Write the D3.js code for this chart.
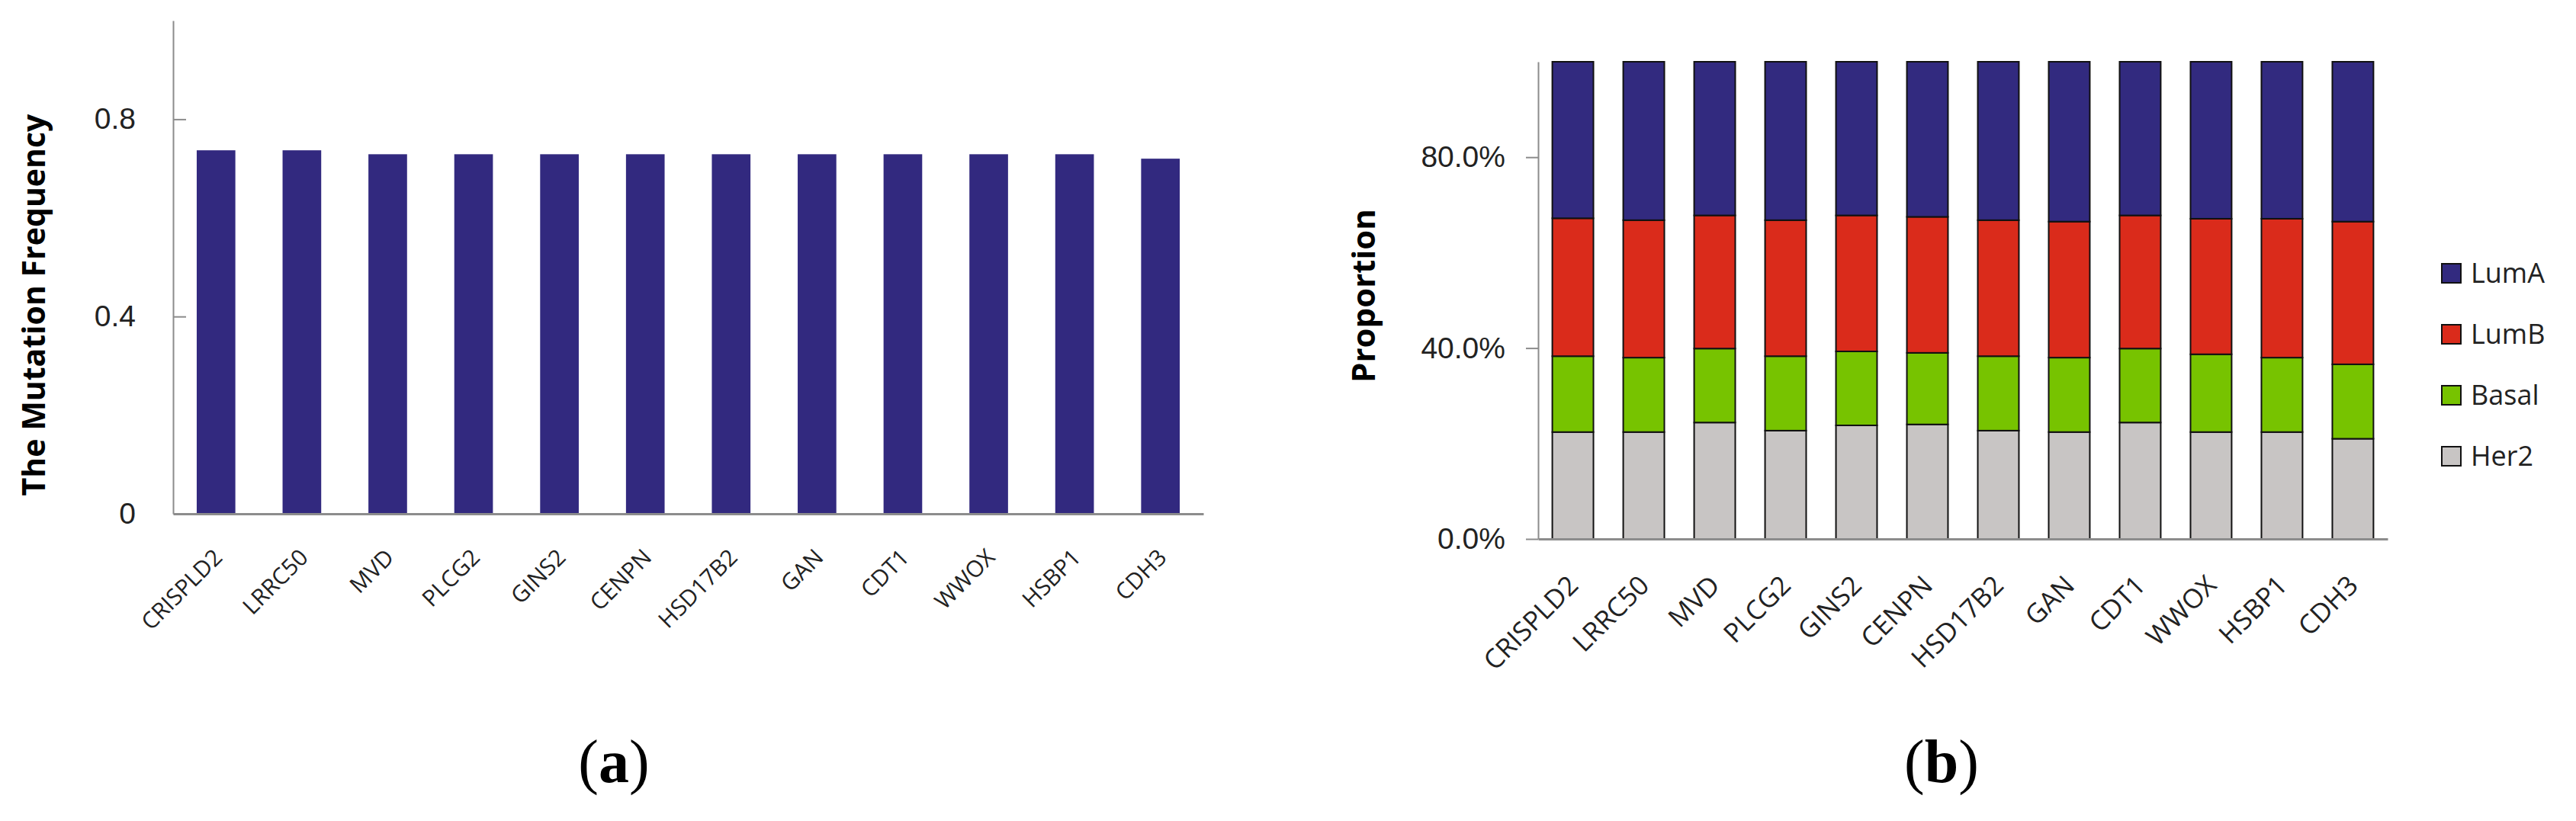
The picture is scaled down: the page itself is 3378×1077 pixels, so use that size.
<!DOCTYPE html>
<meta charset="utf-8">
<script src="https://d3js.org/d3.v7.min.js"></script>
<style>
  body { margin: 0; background: #fff; }
</style>
<svg id="fig" width="3378" height="1077"></svg>
<script>

  // genes shown in both panels
  var genes = ["CRISPLD2", "LRRC50", "MVD", "PLCG2", "GINS2", "CENPN",
               "HSD17B2", "GAN", "CDT1", "WWOX", "HSBP1", "CDH3"];

  // panel (a): mutation frequency per gene
  var mutFreq = [0.737, 0.737, 0.729, 0.729, 0.729, 0.729,
                 0.729, 0.729, 0.729, 0.729, 0.729, 0.720];
  var freqTicks = [0, 0.4, 0.8];

  // panel (b): subtype proportions per gene
  var subtypes = ["Her2", "Basal", "LumB", "LumA"];
  var her2  = [0.224, 0.224, 0.244, 0.227, 0.238, 0.240, 0.227, 0.224, 0.244, 0.224, 0.224, 0.210];
  var basal = [0.159, 0.156, 0.155, 0.156, 0.155, 0.150, 0.156, 0.156, 0.155, 0.163, 0.156, 0.156];
  var lumB  = [0.289, 0.288, 0.279, 0.285, 0.285, 0.285, 0.285, 0.285, 0.279, 0.284, 0.291, 0.299];
  var lumA  = [0.328, 0.332, 0.322, 0.332, 0.322, 0.325, 0.332, 0.335, 0.322, 0.329, 0.329, 0.335];
  var propTicks = [0, 0.4, 0.8];
  var legendOrder = ["LumA", "LumB", "Basal", "Her2"];

  var colors = {LumA: "#322a7f", LumB: "#da2b1b", Basal: "#77c300", Her2: "#c8c5c4"};

  var svg = d3.select("#fig");
  var tickFont = "'Liberation Sans', Arial, sans-serif";
  var labelFont = "'Open Sans', 'Noto Sans', sans-serif";
  var serif = "'Liberation Serif', 'DejaVu Serif', serif";

  // ---------------- panel (a) ----------------
  var xa = d3.scaleBand().domain(genes).range([227, 1578]).paddingInner(0.55).paddingOuter(0.275);
  var ya = d3.scaleLinear().domain([0, 1]).range([674, 27]);

  var ga = svg.append("g");

  ga.append("g")
      .selectAll("rect")
      .data(genes)
      .enter().append("rect")
        .attr("x", function(d) { return xa(d); })
        .attr("width", xa.bandwidth())
        .attr("y", function(d, i) { return ya(mutFreq[i]); })
        .attr("height", function(d, i) { return ya(0) - ya(mutFreq[i]); })
        .attr("fill", "#32297f");

  var yAxisA = ga.append("g")
      .attr("transform", "translate(227,0)")
      .call(d3.axisLeft(ya).tickValues(freqTicks).tickFormat(d3.format("")).tickSizeInner(-17).tickSizeOuter(0).tickPadding(49));
  yAxisA.select(".domain").attr("stroke", "#8c8c8c").attr("stroke-width", 2);
  yAxisA.selectAll(".tick line").attr("stroke", "#8c8c8c").attr("stroke-width", 2)
      .attr("display", function(d) { return d === 0 ? "none" : null; });
  yAxisA.selectAll(".tick text").style("font-family", tickFont).style("font-size", "39px").attr("fill", "#222");

  var xAxisA = ga.append("g")
      .attr("transform", "translate(0,674)")
      .call(d3.axisBottom(xa).tickSize(0).tickSizeOuter(0));
  xAxisA.select(".domain").attr("stroke", "#8c8c8c").attr("stroke-width", 3);
  xAxisA.selectAll(".tick text")
      .attr("x", 0).attr("y", 0).attr("dy", 0)
      .attr("transform", "translate(10,59) rotate(-45)")
      .style("text-anchor", "end")
      .style("font-family", labelFont).style("font-size", "30px").attr("fill", "#222");

  ga.append("text")
      .attr("transform", "translate(59,400) rotate(-90)")
      .attr("text-anchor", "middle")
      .style("font-family", labelFont).style("font-weight", 700).style("font-size", "41px")
      .text("The Mutation Frequency");

  var capA = ga.append("text")
      .attr("x", 805).attr("y", 1026)
      .attr("text-anchor", "middle")
      .style("font-family", serif).style("font-size", "80px");
  capA.append("tspan").text("(");
  capA.append("tspan").style("font-weight", 700).text("a");
  capA.append("tspan").text(")");

  // ---------------- panel (b) ----------------
  var xb = d3.scaleBand().domain(genes).range([2017, 3131]).paddingInner(0.42).paddingOuter(0.2);
  var yb = d3.scaleLinear().domain([0, 1]).range([707, 81]);

  var table = genes.map(function(g, i) {
    return {gene: g, Her2: her2[i], Basal: basal[i], LumB: lumB[i], LumA: lumA[i]};
  });
  var stacked = d3.stack().keys(subtypes)(table);

  var gb = svg.append("g");

  gb.append("g")
      .selectAll("g")
      .data(stacked)
      .enter().append("g")
        .attr("fill", function(d) { return colors[d.key]; })
      .selectAll("rect")
      .data(function(d) { return d; })
      .enter().append("rect")
        .attr("x", function(d) { return xb(d.data.gene); })
        .attr("width", xb.bandwidth())
        .attr("y", function(d) { return yb(d[1]); })
        .attr("height", function(d) { return yb(d[0]) - yb(d[1]); })
        .attr("stroke", "#111")
        .attr("stroke-width", 2);

  var yAxisB = gb.append("g")
      .attr("transform", "translate(2017,0)")
      .call(d3.axisLeft(yb).tickValues(propTicks).tickFormat(d3.format(".1%")).tickSizeInner(16).tickSizeOuter(0).tickPadding(27));
  yAxisB.select(".domain").attr("stroke", "#8c8c8c").attr("stroke-width", 2);
  yAxisB.selectAll(".tick line").attr("stroke", "#8c8c8c").attr("stroke-width", 2);
  yAxisB.selectAll(".tick text").style("font-family", tickFont).style("font-size", "39px").attr("fill", "#222");

  var xAxisB = gb.append("g")
      .attr("transform", "translate(0,707)")
      .call(d3.axisBottom(xb).tickSize(0).tickSizeOuter(0));
  xAxisB.select(".domain").attr("stroke", "#8c8c8c").attr("stroke-width", 3);
  xAxisB.selectAll(".tick text")
      .attr("x", 0).attr("y", 0).attr("dy", 0)
      .attr("transform", "translate(9,63) rotate(-45)")
      .style("text-anchor", "end")
      .style("font-family", labelFont).style("font-size", "35px").attr("fill", "#222");

  gb.append("text")
      .attr("transform", "translate(1803,388) rotate(-90)")
      .attr("text-anchor", "middle")
      .style("font-family", labelFont).style("font-weight", 700).style("font-size", "42px")
      .text("Proportion");

  var legend = gb.append("g")
      .selectAll("g")
      .data(legendOrder)
      .enter().append("g")
        .attr("transform", function(d, i) { return "translate(3202," + (346 + i * 80) + ")"; });
  legend.append("rect")
      .attr("width", 25).attr("height", 25)
      .attr("fill", function(d) { return colors[d]; })
      .attr("stroke", "#111").attr("stroke-width", 2);
  legend.append("text")
      .attr("x", 38).attr("y", 12.5).attr("dy", "0.36em")
      .style("font-family", labelFont).style("font-size", "36px").attr("fill", "#222")
      .text(function(d) { return d; });

  var capB = gb.append("text")
      .attr("x", 2546).attr("y", 1026)
      .attr("text-anchor", "middle")
      .style("font-family", serif).style("font-size", "80px");
  capB.append("tspan").text("(");
  capB.append("tspan").style("font-weight", 700).text("b");
  capB.append("tspan").text(")");

</script>
